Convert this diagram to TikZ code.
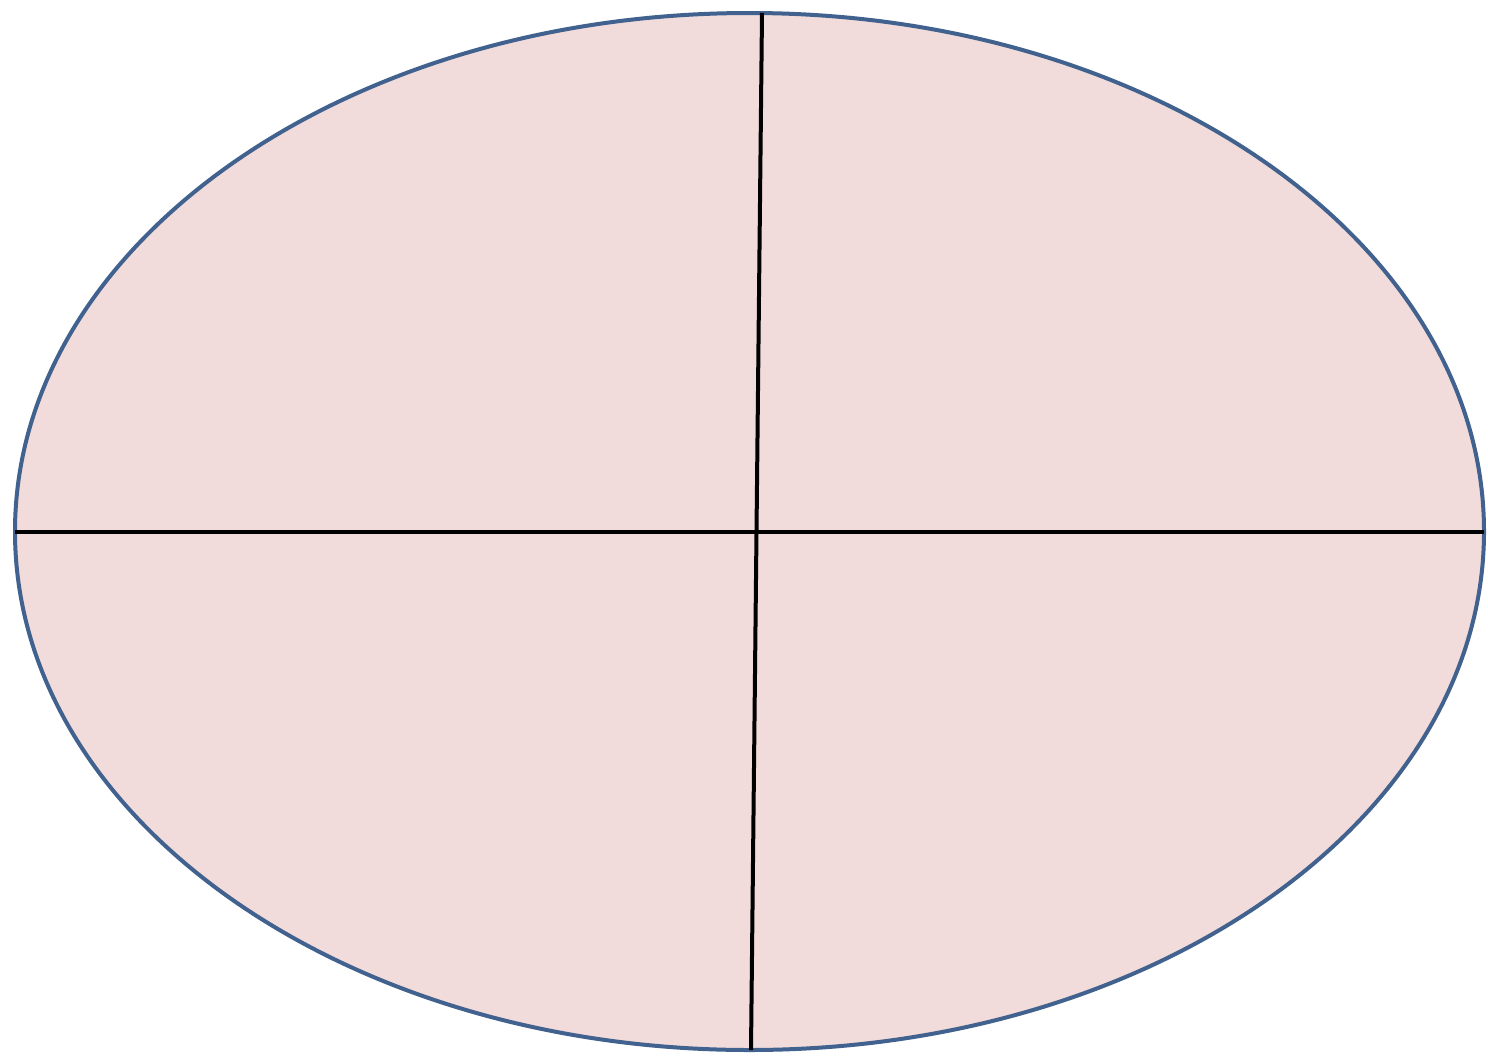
\documentclass[tikz,border=0pt]{standalone}
\definecolor{ovalfill}{HTML}{F2DCDB}
\definecolor{ovaledge}{HTML}{41618E}
\tikzset{
  oval/.style={fill=ovalfill, draw=ovaledge, line width=4pt},
  axisline/.style={draw=black, line width=4pt}
}
\begin{document}
\begin{tikzpicture}[x=1pt,y=-1pt]
\useasboundingbox (0,0) rectangle (1488,1055);
\fill[white] (0,0) rectangle (1488,1055);
\coordinate (c) at (749.5,531.5);
\path[oval] (c) ellipse [x radius=734.5, y radius=518.5];
\coordinate (left) at (15,532);
\coordinate (right) at (1484,532);
\coordinate (top) at (762,13);
\coordinate (bottom) at (751,1050);
\draw[axisline] (left) -- (right);
\draw[axisline] (top) -- (bottom);
\end{tikzpicture}
\end{document}
